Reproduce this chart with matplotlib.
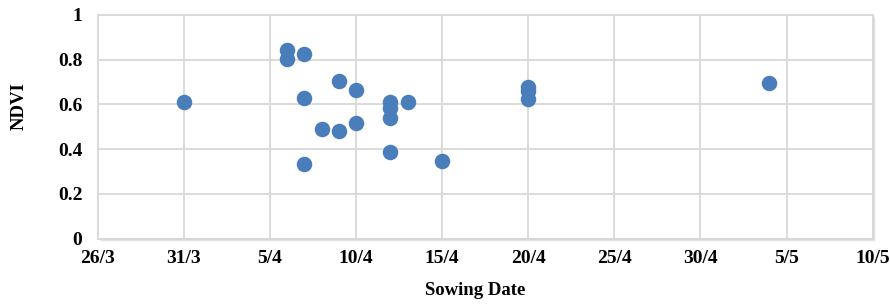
import datetime as dt
import matplotlib
matplotlib.use("Agg")
import matplotlib.pyplot as plt
import matplotlib.dates as mdates
from matplotlib.ticker import FuncFormatter
from matplotlib.patches import Rectangle

# 播種日 (日/月) と NDVI
sowing_day = [31, 6, 6, 7, 7, 7, 8, 9, 9, 10, 10,
              12, 12, 12, 12, 13, 15, 20, 20, 20, 4]
sowing_month = [3, 4, 4, 4, 4, 4, 4, 4, 4, 4, 4,
                4, 4, 4, 4, 4, 4, 4, 4, 4, 5]
ndvi = [0.61, 0.845, 0.805, 0.825, 0.628, 0.333, 0.491, 0.704, 0.483, 0.664, 0.519,
        0.613, 0.585, 0.541, 0.388, 0.613, 0.349, 0.680, 0.658, 0.624, 0.695]

x_start = dt.date(2017, 3, 26)
x_end = dt.date(2017, 5, 10)
x_step_days = 5
y_ticks = [0, 0.2, 0.4, 0.6, 0.8, 1]

dates = [dt.date(2017, m, d) for d, m in zip(sowing_day, sowing_month)]
x_ticks = []
d = x_start
while d <= x_end:
    x_ticks.append(mdates.date2num(d))
    d += dt.timedelta(days=x_step_days)

plt.rcParams["font.family"] = ["Liberation Serif", "DejaVu Serif"]
plt.rcParams["font.weight"] = "bold"

fig = plt.figure(figsize=(8.9, 3.04), dpi=100)
ax = fig.add_axes([0.1098, 0.2148, 0.8707, 0.7362])

# Excel 風の影
for i, a in enumerate([0.10, 0.07, 0.04]):
    off = (i + 1) * 1.2
    fig.patches.append(Rectangle((0.1098 + off / 890, 0.2148 - off / 304), 0.8707, 0.7362,
                                 transform=fig.transFigure, facecolor="black", alpha=a,
                                 edgecolor="none", zorder=-1))

ax.scatter(mdates.date2num(dates), ndvi, s=125, color="#4a7ebb", zorder=3, linewidths=0)

ax.set_xlim(mdates.date2num(x_start), mdates.date2num(x_end))
ax.set_ylim(0, 1)
ax.set_xticks(x_ticks)
ax.xaxis.set_major_formatter(FuncFormatter(
    lambda v, p: "{}/{}".format(mdates.num2date(v).day, mdates.num2date(v).month)))
ax.set_yticks(y_ticks)
ax.set_yticklabels(["0", "0.2", "0.4", "0.6", "0.8", "1"])

ax.grid(True, color="#d9d9d9", linewidth=1.3)
ax.set_axisbelow(True)
for s in ax.spines.values():
    s.set_color("#d9d9d9")
    s.set_linewidth(1.3)

ax.tick_params(axis="both", length=0, labelsize=14)
ax.tick_params(axis="x", pad=8)
ax.tick_params(axis="y", pad=11)
ax.set_xlabel("Sowing Date", fontsize=13.5, fontweight="bold")
ax.set_ylabel("NDVI", fontsize=13.5, fontweight="bold")
ax.xaxis.set_label_coords(0.487, -0.194)
ax.yaxis.set_label_coords(-0.09, 0.594)

fig.savefig("out.png", dpi=100, facecolor="white")
